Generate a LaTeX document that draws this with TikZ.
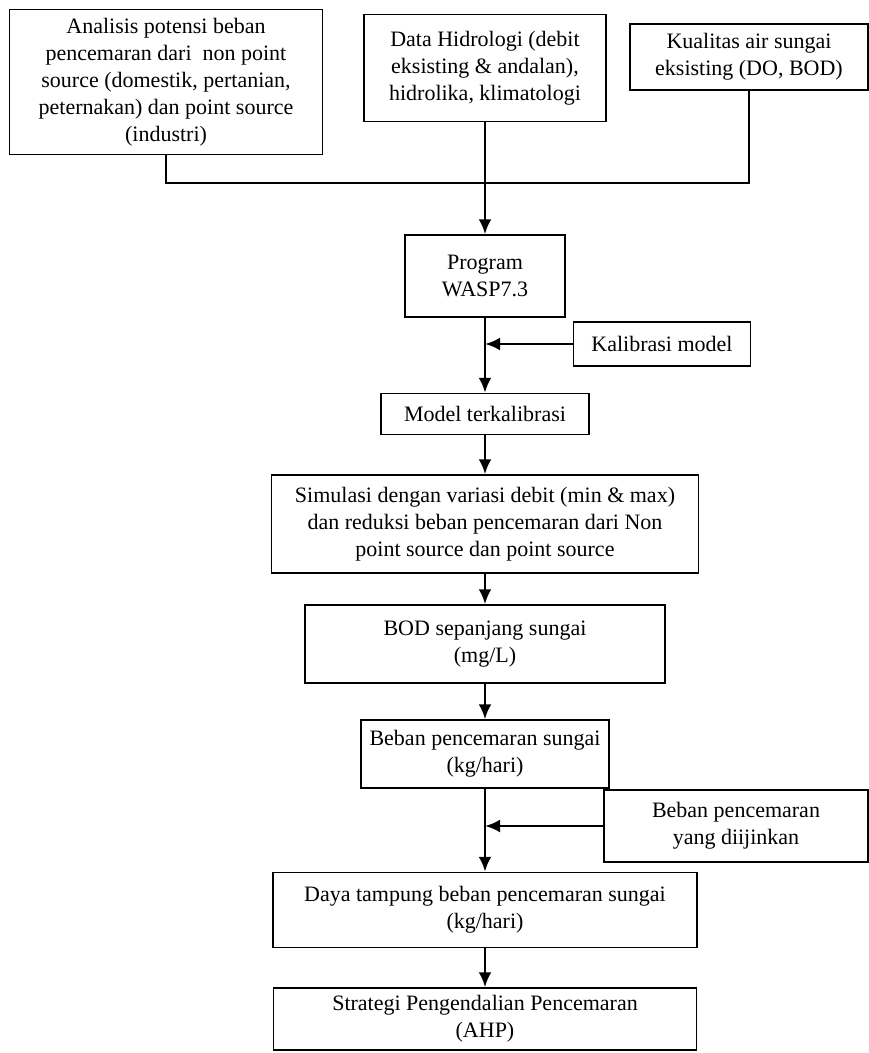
\documentclass[tikz,border=0pt]{standalone}
\usepackage{fontspec}
\setmainfont{Liberation Serif}
\usetikzlibrary{arrows.meta}

\begin{document}
\begin{tikzpicture}[x=1pt,y=-1pt,
    box/.style={draw,line width=1.5pt,align=center,inner sep=2pt,font=\fontsize{22}{27}\selectfont},
    link/.style={line width=2.8pt},
    flow/.style={line width=2.8pt,-{Latex[length=15pt,width=13pt]}}]
    \useasboundingbox (0,0) rectangle (869,1053);
    \node(A) at (166,82) [box,minimum width=313pt,minimum height=145pt]
        {Analisis potensi beban\\pencemaran dari\ \ non point\\source (domestik, pertanian,\\peternakan) dan point source\\(industri)};
    \node(H) at (485,68) [box,minimum width=242pt,minimum height=107pt]
        {Data Hidrologi (debit\\eksisting \& andalan),\\hidrolika, klimatologi};
    \node(K) at (749,57) [box,minimum width=238pt,minimum height=66pt]
        {Kualitas air sungai\\eksisting (DO, BOD)};
    \node(W) at (485,276) [box,minimum width=160pt,minimum height=82pt] {Program\\WASP7.3};
    \node(C) at (662,344) [box,minimum width=177pt,minimum height=44pt] {Kalibrasi model};
    \node(M) at (485,414) [box,minimum width=208pt,minimum height=41pt] {Model terkalibrasi};
    \node(S) at (485,524) [box,minimum width=427pt,minimum height=98pt]
        {Simulasi dengan variasi debit (min \& max)\\dan reduksi beban pencemaran dari Non\\point source dan point source};
    \node(B) at (485,644) [box,minimum width=360pt,minimum height=78pt] {BOD sepanjang sungai\\(mg/L)};
    \node(L) at (485,754) [box,minimum width=248pt,minimum height=68pt] {Beban pencemaran sungai\\(kg/hari)};
    \node(I) at (736,826) [box,minimum width=264pt,minimum height=72pt] {Beban pencemaran\\yang diijinkan};
    \node(D) at (485,910) [box,minimum width=424pt,minimum height=75pt] {Daya tampung beban pencemaran sungai\\(kg/hari)};
    \node(P) at (485,1019) [box,minimum width=423pt,minimum height=62pt] {Strategi Pengendalian Pencemaran\\(AHP)};
    \coordinate (J) at (485,183);
    \draw[link] (A.south) |- (J) -| (K.south);
    \draw[flow] (H.south) -- (W.north);
    \draw[flow] (W.south) -- (M.north);
    \draw[flow] (C.west) -- (C.west -| W.south);
    \draw[flow] (M.south) -- (S.north);
    \draw[flow] (S.south) -- (B.north);
    \draw[flow] (B.south) -- (L.north);
    \draw[flow] (L.south) -- (D.north);
    \draw[flow] (I.west) -- (I.west -| L.south);
    \draw[flow] (D.south) -- (P.north);
\end{tikzpicture}
\end{document}
